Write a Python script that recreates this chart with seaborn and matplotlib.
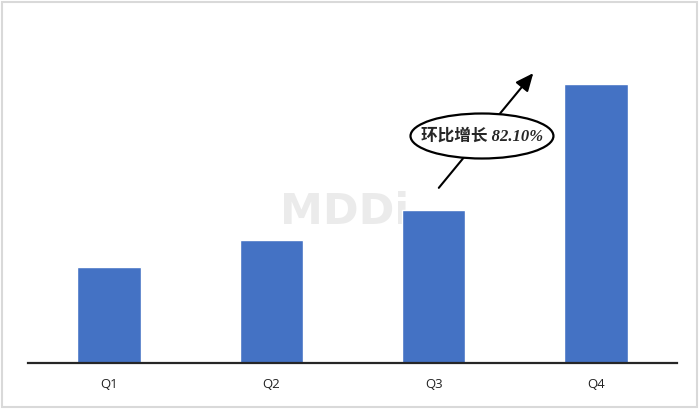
import matplotlib.pyplot as plt
import seaborn as sns
import pandas as pd
from matplotlib.patches import Ellipse, Rectangle

quarters = ["Q1", "Q2", "Q3", "Q4"]
values = [96, 123, 153, 279]
growth_label = "环比增长 82.10%"

df = pd.DataFrame({"quarter": quarters, "value": values})

sns.set_theme(style="white")
plt.rcParams['font.family'] = ['Open Sans', 'Noto Sans CJK SC', 'DejaVu Sans']

fig = plt.figure(figsize=(7, 4.1), dpi=100)
ax = fig.add_axes([28 / 700, 46 / 410, 649 / 700, 344 / 410])

sns.barplot(data=df, x="quarter", y="value", color="#4472C4", width=0.39,
            saturation=1, ax=ax)

ax.set_xlim(-0.5, 3.5)
ax.set_ylim(0, 344)
ax.set_xlabel("")
ax.set_ylabel("")
ax.set_yticks([])
ax.tick_params(axis="x", length=0, labelsize=9.5, colors="#222222", pad=10)
for side in ["top", "right", "left"]:
    ax.spines[side].set_visible(False)
ax.spines["bottom"].set_color("#262626")
ax.spines["bottom"].set_linewidth(1.6)

# watermark
ax.text(1.45, 152, "MDDi", fontsize=31, fontweight="bold", color="#ebebeb",
        ha="center", va="center", family=["DejaVu Sans"], zorder=0)

# growth arrow from Q3 to Q4
ax.annotate("", xy=(2.625, 292), xytext=(2.021, 173),
            arrowprops=dict(arrowstyle="-|>,head_length=0.9,head_width=0.4",
                            color="black", lw=1.5), zorder=4)
ell = Ellipse((2.298, 227), 0.881, 45, facecolor="white", edgecolor="black",
              lw=1.6, zorder=5)
ax.add_patch(ell)
ax.text(2.298, 227, growth_label, ha="center", va="center", fontsize=12,
        fontstyle="italic", fontweight="bold",
        family=["Liberation Serif", "Noto Sans CJK SC"], zorder=6)

# light frame around the picture
fig.patches.append(Rectangle((2 / 700, 2 / 410), 695 / 700, 405 / 410,
                             transform=fig.transFigure, fill=False,
                             edgecolor="#d9d9d9", lw=1.5))

fig.savefig("out.png", dpi=100)
